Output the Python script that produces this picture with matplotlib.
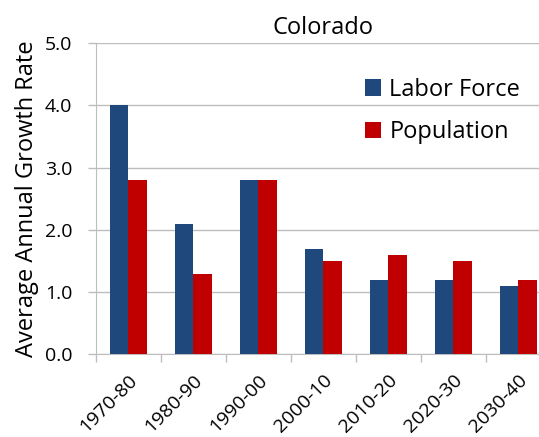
import numpy as np
import matplotlib
matplotlib.use("Agg")
import matplotlib.pyplot as plt

periods = ["1970-80", "1980-90", "1990-00", "2000-10", "2010-20", "2020-30", "2030-40"]
labor_force = [4.0, 2.1, 2.8, 1.7, 1.2, 1.2, 1.1]
population = [2.8, 1.3, 2.8, 1.5, 1.6, 1.5, 1.2]

BLUE = "#1F497D"
RED = "#C00000"
GRID = "#BDBDBD"

plt.rcParams["font.family"] = ["Open Sans", "DejaVu Sans"]

fig = plt.figure(figsize=(5.39, 4.37), dpi=100)
# plot area runs past the right edge, as in the original (cropped) picture
ax = fig.add_axes([0.178, 0.189, 0.844, 0.712])

x = np.arange(len(periods))
w = 0.285
ax.bar(x - w / 2, labor_force, w, color=BLUE, label="Labor Force", zorder=3)
ax.bar(x + w / 2, population, w, color=RED, label="Population", zorder=3)

ax.set_xlim(-0.5, len(periods) - 0.5)
ax.set_ylim(0, 5)
yt = np.arange(0, 5.1, 1.0)
ax.set_yticks(yt)
ax.set_yticklabels([f"{v:.1f}" for v in yt], fontsize=14)
ax.yaxis.grid(True, color=GRID, lw=1, zorder=0)

# category labels centred, tick marks on the boundaries
ax.set_xticks(x)
ax.set_xticklabels(periods, rotation=45, ha="right", va="top", rotation_mode="anchor", fontsize=14)
ax.tick_params(axis="x", length=0, pad=12)
ax.set_xticks(np.arange(-0.5, len(periods), 1.0), minor=True)
ax.tick_params(axis="x", which="minor", length=6, color=GRID, width=1)
ax.tick_params(axis="y", length=6, color=GRID, width=1, pad=11)

for s in ("top", "right"):
    ax.spines[s].set_visible(False)
for s in ("left", "bottom"):
    ax.spines[s].set_color(GRID)

ax.set_ylabel("Average Annual Growth Rate", fontsize=17, labelpad=4)
ax.set_title("Colorado", fontsize=17, pad=7)

ax.legend(loc="upper left", bbox_to_anchor=(0.57, 0.92), frameon=False, fontsize=17,
          handlelength=0.7, handleheight=0.7, handletextpad=0.35, labelspacing=0.8,
          borderaxespad=0)

fig.savefig("out.png", dpi=100)
